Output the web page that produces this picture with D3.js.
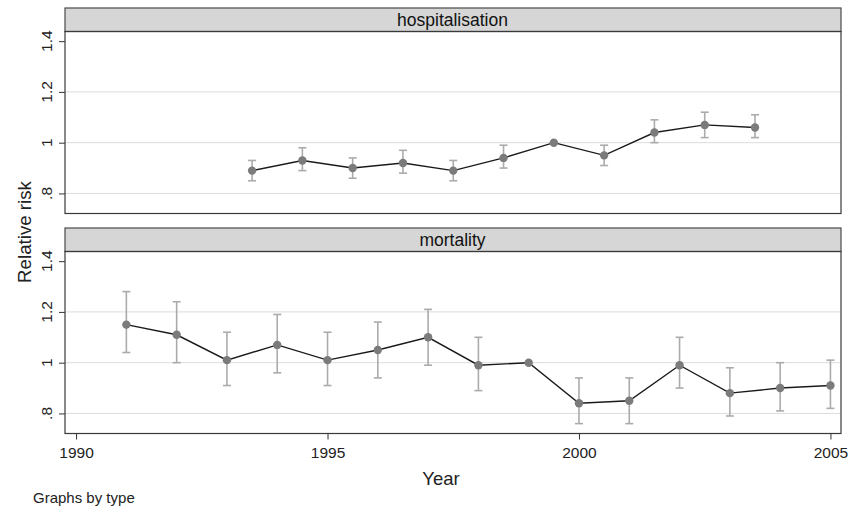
<!DOCTYPE html>
<html>
<head>
<meta charset="utf-8">
<script src="https://cdn.jsdelivr.net/npm/d3@7"></script>
<style>
  html, body { margin: 0; padding: 0; background: #fff; }
  svg { display: block; font-family: "Liberation Sans", Arial, Helvetica, sans-serif; }
</style>
</head>
<body>
<svg id="chart" width="850" height="508"></svg>
<script>
// ---- data ----
const panels = ["hospitalisation", "mortality"];

const hospYears = [1993.5, 1994.5, 1995.5, 1996.5, 1997.5, 1998.5, 1999.5, 2000.5, 2001.5, 2002.5, 2003.5];
const hospRR    = [0.89, 0.93, 0.90, 0.92, 0.89, 0.94, 1.00, 0.95, 1.04, 1.07, 1.06];
const hospLo    = [0.85, 0.89, 0.86, 0.88, 0.85, 0.90, null, 0.91, 1.00, 1.02, 1.02];
const hospHi    = [0.93, 0.98, 0.94, 0.97, 0.93, 0.99, null, 0.99, 1.09, 1.12, 1.11];

const mortYears = [1991, 1992, 1993, 1994, 1995, 1996, 1997, 1998, 1999, 2000, 2001, 2002, 2003, 2004, 2005];
const mortRR    = [1.15, 1.11, 1.01, 1.07, 1.01, 1.05, 1.10, 0.99, 1.00, 0.84, 0.85, 0.99, 0.88, 0.90, 0.91];
const mortLo    = [1.04, 1.00, 0.91, 0.96, 0.91, 0.94, 0.99, 0.89, null, 0.76, 0.76, 0.90, 0.79, 0.81, 0.82];
const mortHi    = [1.28, 1.24, 1.12, 1.19, 1.12, 1.16, 1.21, 1.10, null, 0.94, 0.94, 1.10, 0.98, 1.00, 1.01];

const yTicks = [0.8, 1.0, 1.2, 1.4];
const yTickLabels = [".8", "1", "1.2", "1.4"];
const yGrid = [0.8, 1.0, 1.2];
const xTicks = [1990, 1995, 2000, 2005];

const series = [
  { name: panels[0], years: hospYears, rr: hospRR, lo: hospLo, hi: hospHi },
  { name: panels[1], years: mortYears, rr: mortRR, lo: mortLo, hi: mortHi }
];

// ---- layout ----
const svg = d3.select("#chart");
const L = 65, R = 841;
const panelTops = [8, 228];
const headerH = 23.5;
const plotH = 182;

const x = d3.scaleLinear().domain([1989.78, 2005.21]).range([L, R]);

const fontFam = '"Liberation Sans", Arial, Helvetica, sans-serif';

series.forEach((s, i) => {
  const top = panelTops[i];
  const pTop = top + headerH;
  const pBot = pTop + plotH;
  const y = d3.scaleLinear().domain([0.721, 1.438]).range([pBot, pTop]);
  const g = svg.append("g");

  // plot background
  g.append("rect").attr("x", L).attr("y", pTop).attr("width", R - L).attr("height", plotH)
    .attr("fill", "#fff");

  // gridlines
  g.selectAll(".grid").data(yGrid).join("line")
    .attr("x1", L).attr("x2", R)
    .attr("y1", d => y(d)).attr("y2", d => y(d))
    .attr("stroke", "#dcdcdc").attr("stroke-width", 1);

  // y axis
  const yAxis = d3.axisLeft(y).tickValues(yTicks).tickSize(6).tickFormat("");
  const ya = g.append("g").attr("transform", `translate(${L},0)`).call(yAxis);
  ya.select(".domain").remove();
  ya.selectAll(".tick line").attr("stroke", "#333").attr("stroke-width", 1);
  g.selectAll(".ylab").data(yTicks).join("text")
    .attr("transform", d => `translate(51.5,${y(d)}) rotate(-90)`)
    .attr("text-anchor", "middle")
    .attr("font-size", "15.5px").attr("fill", "#222")
    .attr("font-family", fontFam)
    .text((d, k) => yTickLabels[k]);

  // error bars
  const eb = s.years.map((yr, k) => ({ yr, lo: s.lo[k], hi: s.hi[k] })).filter(d => d.lo != null);
  const ebG = g.append("g").attr("stroke", "#ababab").attr("stroke-width", 1.6).attr("fill", "none");
  ebG.selectAll(".v").data(eb).join("line")
    .attr("x1", d => x(d.yr)).attr("x2", d => x(d.yr))
    .attr("y1", d => y(d.lo)).attr("y2", d => y(d.hi));
  ebG.selectAll(".cl").data(eb).join("line")
    .attr("x1", d => x(d.yr) - 4).attr("x2", d => x(d.yr) + 4)
    .attr("y1", d => y(d.lo)).attr("y2", d => y(d.lo));
  ebG.selectAll(".ch").data(eb).join("line")
    .attr("x1", d => x(d.yr) - 4).attr("x2", d => x(d.yr) + 4)
    .attr("y1", d => y(d.hi)).attr("y2", d => y(d.hi));

  // line
  const pts = s.years.map((yr, k) => [yr, s.rr[k]]);
  g.append("path").datum(pts)
    .attr("d", d3.line().x(d => x(d[0])).y(d => y(d[1])))
    .attr("fill", "none").attr("stroke", "#1a1a1a").attr("stroke-width", 1.4);

  // markers
  g.selectAll(".m").data(pts).join("circle")
    .attr("cx", d => x(d[0])).attr("cy", d => y(d[1])).attr("r", 4.2)
    .attr("fill", "#7b7b7b");

  // header box
  g.append("rect").attr("x", L).attr("y", top).attr("width", R - L).attr("height", headerH)
    .attr("fill", "#d6d6d6").attr("stroke", "#4a4a4a").attr("stroke-width", 1.2);
  g.append("text").attr("x", (L + R) / 2 - 0.5).attr("y", top + 18)
    .attr("text-anchor", "middle").attr("font-size", "17.5px").attr("fill", "#111")
    .attr("font-family", fontFam)
    .text(s.name);

  // plot border
  g.append("rect").attr("x", L).attr("y", pTop).attr("width", R - L).attr("height", plotH)
    .attr("fill", "none").attr("stroke", "#3a3a3a").attr("stroke-width", 1.2);

  // x axis only on bottom panel
  if (i === series.length - 1) {
    const xAxis = d3.axisBottom(x).tickValues(xTicks).tickSize(6).tickFormat(d3.format("d"));
    const xa = g.append("g").attr("transform", `translate(0,${pBot})`).call(xAxis);
    xa.select(".domain").remove();
    xa.selectAll(".tick line").attr("stroke", "#333").attr("stroke-width", 1);
    xa.selectAll(".tick text").attr("font-size", "15.5px").attr("fill", "#222")
      .attr("font-family", fontFam).attr("dy", null).attr("y", 24);
  }
});

// axis titles
svg.append("text").attr("transform", "translate(31,232) rotate(-90)")
  .attr("text-anchor", "middle").attr("font-size", "18.7px").attr("fill", "#222")
  .attr("font-family", fontFam).text("Relative risk");
svg.append("text").attr("x", 441).attr("y", 485)
  .attr("text-anchor", "middle").attr("font-size", "18.5px").attr("fill", "#222")
  .attr("font-family", fontFam).text("Year");
svg.append("text").attr("x", 33).attr("y", 503)
  .attr("font-size", "15px").attr("fill", "#222")
  .attr("font-family", fontFam).text("Graphs by type");
</script>
</body>
</html>
